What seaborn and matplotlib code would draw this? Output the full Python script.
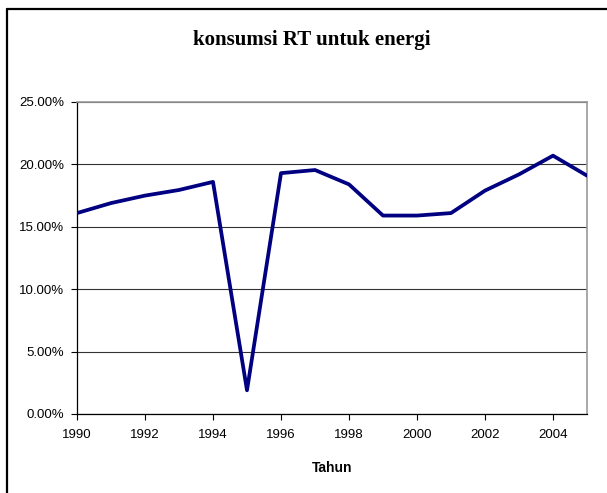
import matplotlib
matplotlib.use('Agg')
import matplotlib.pyplot as plt
import seaborn as sns
import pandas as pd
from matplotlib.lines import Line2D
from matplotlib.ticker import FuncFormatter

# Data
years = [1990, 1991, 1992, 1993, 1994, 1995, 1996, 1997,
         1998, 1999, 2000, 2001, 2002, 2003, 2004, 2005]
share = [16.1, 16.9, 17.5, 17.95, 18.6, 1.9, 19.3, 19.55,
         18.4, 15.9, 15.9, 16.1, 17.9, 19.2, 20.7, 19.1]

data = pd.DataFrame({'Tahun': years, 'share': share})

sns.set_style('white')
plt.rcParams['font.family'] = ['Liberation Sans', 'DejaVu Sans']
plt.rcParams['text.color'] = 'black'
plt.rcParams['axes.labelcolor'] = 'black'

fig = plt.figure(figsize=(6.07, 4.93), dpi=100)
ax = fig.add_axes([77 / 607, 79 / 493, 510 / 607, 312 / 493])

sns.lineplot(data=data, x='Tahun', y='share', ax=ax, color='#000080',
             linewidth=2.7, zorder=3)

ax.set_xlim(1990, 2005)
ax.set_ylim(0, 25)
ax.set_xticks(range(1990, 2005, 2))
ax.set_yticks([0, 5, 10, 15, 20, 25])
ax.yaxis.set_major_formatter(FuncFormatter(lambda v, p: f'{v:.2f}%'))
ax.tick_params(axis='both', labelsize=9.5, colors='black', length=4,
               direction='out', width=0.8)
ax.tick_params(axis='x', pad=7)
ax.tick_params(axis='y', pad=5)
ax.tick_params(axis='both', bottom=True, left=True)

# gridlines
ax.grid(axis='y', color='#333333', linewidth=0.8)
ax.set_axisbelow(True)

for side in ['left', 'bottom']:
    ax.spines[side].set_color('black')
    ax.spines[side].set_linewidth(0.9)
for side in ['top', 'right']:
    ax.spines[side].set_color('#999999')
    ax.spines[side].set_linewidth(1.2)

ax.set_xlabel('Tahun', fontsize=10, fontweight='bold', labelpad=14)
ax.set_ylabel('')

fig.text(312 / 607, 1 - 40 / 493, 'konsumsi RT untuk energi',
         ha='center', va='center', fontsize=15, fontweight='bold',
         color='black', family=['Liberation Serif', 'DejaVu Serif'])

# outer frame (top and left edge)
fig.add_artist(Line2D([7 / 607, 1], [1 - 9 / 493, 1 - 9 / 493],
                      transform=fig.transFigure, color='black', linewidth=1.6))
fig.add_artist(Line2D([7 / 607, 7 / 607], [1 - 9 / 493, 0],
                      transform=fig.transFigure, color='black', linewidth=1.6))

fig.savefig('out.png', dpi=100)
